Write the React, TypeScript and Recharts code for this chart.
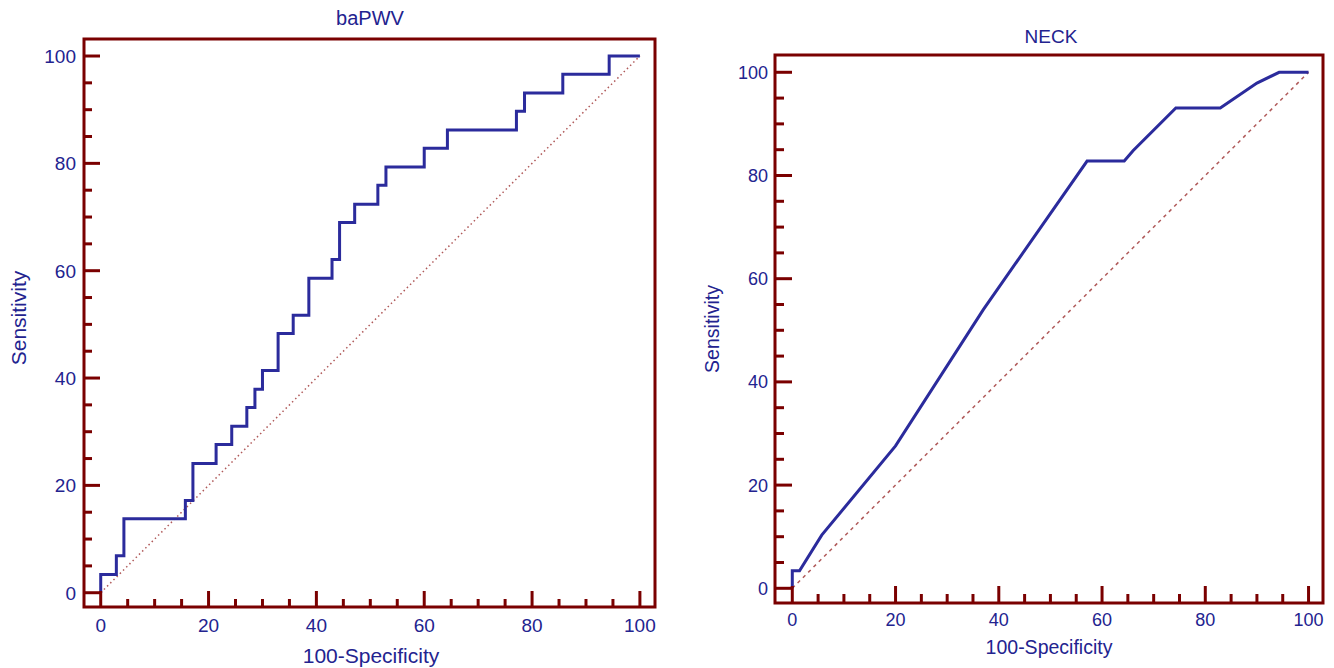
import React from "react";
import { LineChart, Line, XAxis, YAxis, ReferenceArea } from "recharts";

// axis ticks every 5, labelled every 20
const TICKS = [0, 5, 10, 15, 20, 25, 30, 35, 40, 45, 50, 55, 60, 65, 70, 75, 80, 85, 90, 95, 100];
const MAJOR_EVERY = 20;

// baPWV ROC (step curve): 100-specificity vs sensitivity
const BAPWV_FPR = [0, 0, 2.9, 4.3, 15.7, 17.1, 21.4, 24.3, 27.1, 28.6, 30.0, 32.9, 35.7, 38.6, 42.9, 44.3, 47.1, 51.4, 52.9, 60.0, 64.3, 77.1, 78.6, 85.7, 94.3, 100];
const BAPWV_TPR = [0, 3.4, 6.9, 13.8, 17.2, 24.1, 27.6, 31.0, 34.5, 37.9, 41.4, 48.3, 51.7, 58.6, 62.1, 69.0, 72.4, 75.9, 79.3, 82.8, 86.2, 89.7, 93.1, 96.6, 100, 100];

// NECK ROC (linear segments)
const NECK_FPR = [0, 0, 1.4, 5.7, 20.0, 37.0, 57.1, 64.3, 66.0, 74.3, 82.9, 90.0, 94.3, 100];
const NECK_TPR = [0, 3.4, 3.4, 10.3, 27.6, 54.0, 82.8, 82.8, 84.8, 93.1, 93.1, 97.9, 100, 100];

// reference (chance) diagonal
const CHANCE = [0, 100];

const FRAME = "#7a0000";
const INK = "#23238f";
const CURVE = "#2b2b9c";
const DIAG = "#b05a5a";
const FONT = '"Liberation Sans", Arial, sans-serif';

const toPoints = (xs: number[], ys: number[]) => xs.map((x, i) => ({ x, y: ys[i] }));
const chancePoints = CHANCE.map((v) => ({ x: v, y: v }));

function Caption({ text, x, y, size, vertical }: { text: string; x: number; y: number; size: number; vertical?: boolean }) {
  return (
    <div
      style={{
        position: "absolute",
        left: x,
        top: y,
        transform: `translate(-50%, -50%)${vertical ? " rotate(-90deg)" : ""}`,
        whiteSpace: "nowrap",
        fontFamily: FONT,
        fontSize: size,
        lineHeight: 1,
        color: INK,
      }}
    >
      {text}
    </div>
  );
}

interface PanelProps {
  left: number;
  width: number;
  margin: { top: number; right: number; bottom: number; left: number };
  xDomain: [number, number];
  yDomain: [number, number];
  points: { x: number; y: number }[];
  curve: "stepAfter" | "linear";
  chanceDash: string;
  tickFont: number;
  majorLen: number;
  minorLen: number;
  yLabelGap: number;
  xLabelGap: number;
}

function RocPanel(p: PanelProps) {
  const yTick = ({ x, y, payload }: any) => {
    const major = payload.value % MAJOR_EVERY === 0;
    return (
      <g>
        <line x1={x} x2={x + (major ? p.majorLen : p.minorLen)} y1={y} y2={y} stroke={FRAME} strokeWidth={3} />
        {major && (
          <text x={x - p.yLabelGap} y={y} dy="0.36em" textAnchor="end" fill={INK} fontSize={p.tickFont} fontFamily={FONT}>
            {payload.value}
          </text>
        )}
      </g>
    );
  };

  const xTick = ({ x, y, payload }: any) => {
    const major = payload.value % MAJOR_EVERY === 0;
    return (
      <g>
        <line x1={x} x2={x} y1={y} y2={y - (major ? p.majorLen : p.minorLen)} stroke={FRAME} strokeWidth={3} />
        {major && (
          <text x={x} y={y + p.xLabelGap} dy="0.36em" textAnchor="middle" fill={INK} fontSize={p.tickFont} fontFamily={FONT}>
            {payload.value}
          </text>
        )}
      </g>
    );
  };

  return (
    <div style={{ position: "absolute", left: p.left, top: 0 }}>
      <LineChart width={p.width} height={668} margin={p.margin}>
        <XAxis
          type="number"
          dataKey="x"
          domain={p.xDomain}
          ticks={TICKS}
          interval={0}
          tick={xTick}
          tickLine={false}
          axisLine={false}
          tickSize={0}
          tickMargin={0}
          height={30}
          allowDataOverflow
        />
        <YAxis
          type="number"
          dataKey="y"
          domain={p.yDomain}
          ticks={TICKS}
          interval={0}
          tick={yTick}
          tickLine={false}
          axisLine={false}
          tickSize={0}
          tickMargin={0}
          width={60}
          allowDataOverflow
        />
        <ReferenceArea
          x1={p.xDomain[0]}
          x2={p.xDomain[1]}
          y1={p.yDomain[0]}
          y2={p.yDomain[1]}
          fill="none"
          fillOpacity={0}
          stroke={FRAME}
          strokeWidth={3}
          ifOverflow="visible"
        />
        <Line
          data={chancePoints}
          dataKey="y"
          type="linear"
          stroke={DIAG}
          strokeWidth={1.5}
          strokeDasharray={p.chanceDash}
          dot={false}
          activeDot={false}
          isAnimationActive={false}
        />
        <Line
          data={p.points}
          dataKey="y"
          type={p.curve}
          stroke={CURVE}
          strokeWidth={3}
          dot={false}
          activeDot={false}
          isAnimationActive={false}
        />
      </LineChart>
    </div>
  );
}

export default function App() {
  return (
    <div style={{ position: "fixed", left: 0, top: 0, width: 1334, height: 668, background: "#fff", overflow: "hidden" }}>
      <RocPanel
        left={0}
        width={670}
        margin={{ top: 39, right: 15, bottom: 31, left: 24 }}
        xDomain={[-3.1, 102.8]}
        yDomain={[-2.66, 103.17]}
        points={toPoints(BAPWV_FPR, BAPWV_TPR)}
        curve="stepAfter"
        chanceDash="1.5 3"
        tickFont={19}
        majorLen={16}
        minorLen={8}
        yLabelGap={8}
        xLabelGap={18}
      />
      <RocPanel
        left={680}
        width={654}
        margin={{ top: 55, right: 11, bottom: 35, left: 35 }}
        xDomain={[-3.35, 102.8]}
        yDomain={[-2.85, 103.35]}
        points={toPoints(NECK_FPR, NECK_TPR)}
        curve="linear"
        chanceDash="3.5 4"
        tickFont={18}
        majorLen={17}
        minorLen={9}
        yLabelGap={7}
        xLabelGap={17}
      />
      <Caption text="baPWV" x={370} y={18} size={20} />
      <Caption text="Sensitivity" x={18} y={318} size={21} vertical />
      <Caption text="100-Specificity" x={371} y={655} size={21} />
      <Caption text="NECK" x={1051} y={36} size={19} />
      <Caption text="Sensitivity" x={713} y={329} size={19.5} vertical />
      <Caption text="100-Specificity" x={1049} y={648} size={19.5} />
    </div>
  );
}
